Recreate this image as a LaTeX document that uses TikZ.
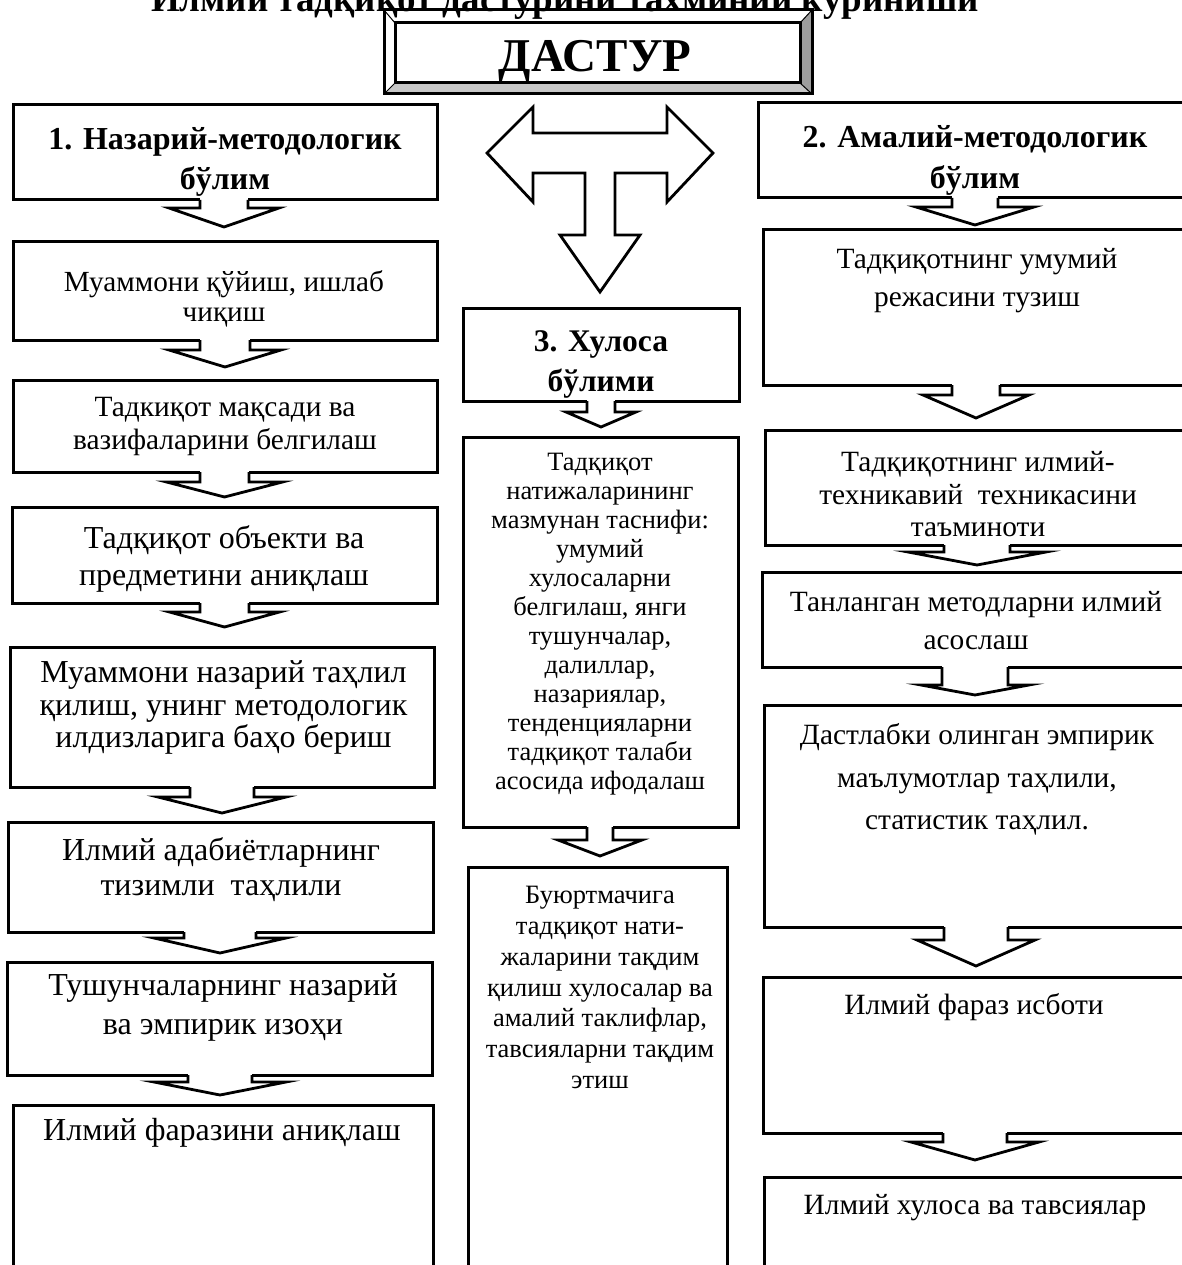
\documentclass[tikz,border=0pt]{standalone}
\usepackage{fontspec}
\setmainfont{Liberation Serif}
\usetikzlibrary{calc}

\tikzset{
  box/.style={draw, line width=3pt, fill=white, anchor=north west, inner sep=0pt, outer sep=0pt},
  txt/.style 2 args={align=center, inner sep=0pt, font=\fontsize{#1}{#2}\selectfont},
  head/.style 2 args={align=center, inner sep=0pt, font=\fontsize{#1}{#2}\selectfont\bfseries},
  arr/.style={line width=2.8pt, fill=white, line join=miter, miter limit=20},
}

% box from its corners: name, x1, y1, x2, y2
\newcommand\mkbox[5]{\node[box, minimum width={(#4-#2)*1pt}, minimum height={(#5-#3)*1pt}] (#1) at (#2,#3) {};}

% notched down arrow: from, to, x, stem half, head half, wing drop, gap
\newcommand\sarrow[7]{%
  \coordinate (#1-s) at (#1.south -| #3,0);
  \coordinate (#1-t) at ($(#2.north -| #3,0)+(0,-#7)$);
  \fill[white] ($(#1-s)+(-#4,-2)$) rectangle ($(#1-s)+(#4,#6)$);
  \filldraw[arr] ($(#1-s)+(-#4,0)$) -- ++(0,#6) -- ++(#4-#5,0) -- (#1-t)
    -- ($(#1-s)+(#5,#6)$) -- ++(#4-#5,0) -- ++(0,-#6);
}

\begin{document}
\begin{tikzpicture}[x=1pt, y=-1pt]
\path[use as bounding box, fill=white] (0,0) rectangle (1181,1265);

% title, cut by the page top
\node[anchor=base, font=\fontsize{37}{37}\selectfont\bfseries] (title) at (565,12)
  {Илмий тадқиқот дастурини тахминий кўриниши};

% bevelled frame
\path (384,10) node[anchor=north west, minimum width=428pt, minimum height=84pt, inner sep=0pt, outer sep=0pt] (prog) {}
      (395,23) node[anchor=north west, minimum width=405pt, minimum height=60pt, inner sep=0pt, outer sep=0pt] (progin) {};
\fill[white] (progin.north west) rectangle (progin.south east);
\fill[black!38] (prog.north east) -- (progin.north east) -- (progin.south east) -- (prog.south east) -- cycle;
\fill[black!22] (prog.south west) -- (progin.south west) -- (progin.south east) -- (prog.south east) -- cycle;
\draw[line width=1pt] (prog.north west) -- (progin.north west) (prog.north east) -- (progin.north east)
  (prog.south west) -- (progin.south west) (prog.south east) -- (progin.south east);
\draw[line width=3pt] (prog.north west) rectangle (prog.south east)
  (progin.north west) rectangle (progin.south east);
\node[font=\fontsize{47}{47}\selectfont\bfseries, inner sep=0pt] (progt) at (595,61) {ДАСТУР};

% T-shaped arrow
\filldraw[arr] (487,153) -- (533,107) -- (533,133) -- (667,133) -- (667,107) -- (713,153)
  -- (667,202) -- (667,173) -- (615,173) -- (615,235) -- (640,235) -- (600,292)
  -- (560,235) -- (585,235) -- (585,173) -- (533,173) -- (533,202) -- cycle;

% left column
\mkbox{nb1}{13}{105}{437}{200}
\mkbox{nb2}{13}{242}{437}{340}
\mkbox{nb3}{13}{380}{437}{472}
\mkbox{nb4}{12}{507}{437}{603}
\mkbox{nb5}{10}{647}{434}{787}
\mkbox{nb6}{8}{822}{433}{932}
\mkbox{nb7}{7}{962}{432}{1075}
\mkbox{nb8}{13}{1105}{433}{1290}

% right column
\mkbox{ab1}{758}{103}{1200}{198}
\mkbox{ab2}{763}{230}{1200}{385}
\mkbox{ab3}{765}{430}{1200}{545}
\mkbox{ab4}{762}{572}{1200}{667}
\mkbox{ab5}{764}{705}{1200}{927}
\mkbox{ab6}{763}{977}{1200}{1133}
\mkbox{ab7}{764}{1177}{1200}{1290}

% middle column
\mkbox{xb1}{463}{308}{739}{401}
\mkbox{xb2}{463}{437}{738}{827}
\mkbox{xb3}{468}{867}{727}{1290}

% texts
\node[head={32}{40}] (nb1t) at (225,162) {1. Назарий-методологик\\бўлим};
\node[txt={29.2}{30}] (nb2t) at (224,299) {Муаммони қўйиш, ишлаб\\чиқиш};
\node[txt={29.4}{33}] (nb3t) at (225,427) {Тадкиқот мақсади ва\\вазифаларини белгилаш};
\node[txt={32}{37}] (nb4t) at (224,558.5) {Тадқиқот объекти ва\\предметини аниқлаш};
\node[txt={32}{32.5}] (nb5t) at (223.5,707.5) {Муаммони назарий таҳлил\\қилиш, унинг методологик\\илдизларига баҳо бериш};
\node[txt={32}{35}] (nb6t) at (221,869.5) {Илмий адабиётларнинг\\тизимли\ \ таҳлили};
\node[txt={32}{39}] (nb7t) at (223,1007.5) {Тушунчаларнинг назарий\\ва эмпирик изоҳи};
\node[txt={32}{32}] (nb8t) at (222,1133) {Илмий фаразини аниқлаш};

\node[head={32}{41}] (ab1t) at (975,160) {2. Амалий-методологик\\бўлим};
\node[txt={29.4}{38}] (ab2t) at (977,281) {Тадқиқотнинг умумий\\режасини тузиш};
\node[txt={29.4}{32.5}] (ab3t) at (978,494.5) {Тадқиқотнинг илмий-\\техникавий\ \ техникасини\\таъминоти};
\node[txt={29.4}{38}] (ab4t) at (976,621) {Танланган методларни илмий\\асослаш};
\node[txt={29.4}{42.5}] (ab5t) at (977,779.5) {Дастлабки олинган эмпирик\\маълумотлар таҳлили,\\статистик таҳлил.};
\node[txt={29.4}{30}] (ab6t) at (974,1007) {Илмий фараз исботи};
\node[txt={29.4}{30}] (ab7t) at (975,1208) {Илмий хулоса ва тавсиялар};

\node[head={31.5}{40}] (xb1t) at (601,364) {3. Хулоса\\бўлими};
\node[txt={26.5}{29}] (xb2t) at (600,624) {Тадқиқот\\натижаларининг\\мазмунан таснифи:\\умумий\\хулосаларни\\белгилаш, янги\\тушунчалар,\\далиллар,\\назариялар,\\тенденцияларни\\тадқиқот талаби\\асосида ифодалаш};
\node[txt={26.5}{30.8}] (xb3t) at (600,987.5) {Буюртмачига\\тадқиқот нати-\\жаларини тақдим\\қилиш хулосалар ва\\амалий таклифлар,\\тавсияларни тақдим\\этиш};

% arrows between boxes
\sarrow{nb1}{nb2}{224}{24}{55}{8}{15}
\sarrow{nb2}{nb3}{225}{25}{56}{10}{13}
\sarrow{nb3}{nb4}{224.5}{24.5}{58}{10}{10}
\sarrow{nb4}{nb5}{224.5}{24.5}{55}{9}{20}
\sarrow{nb5}{nb6}{222}{32}{64}{10}{9}
\sarrow{nb6}{nb7}{220}{36}{66}{6}{9}
\sarrow{nb7}{nb8}{220}{32}{66}{7}{10}
\sarrow{ab1}{ab2}{975}{23}{59}{9}{5}
\sarrow{ab2}{ab3}{976}{24}{53}{10}{12}
\sarrow{ab3}{ab4}{977}{33}{69}{7}{7}
\sarrow{ab4}{ab5}{975}{33}{54}{18}{10}
\sarrow{ab5}{ab6}{976}{32}{59}{13}{11}
\sarrow{ab6}{ab7}{975}{32}{64}{9}{17}
\sarrow{xb1}{xb2}{601}{14}{35}{11}{10}
\sarrow{xb2}{xb3}{600}{13}{42}{13}{11}
\end{tikzpicture}
\end{document}
